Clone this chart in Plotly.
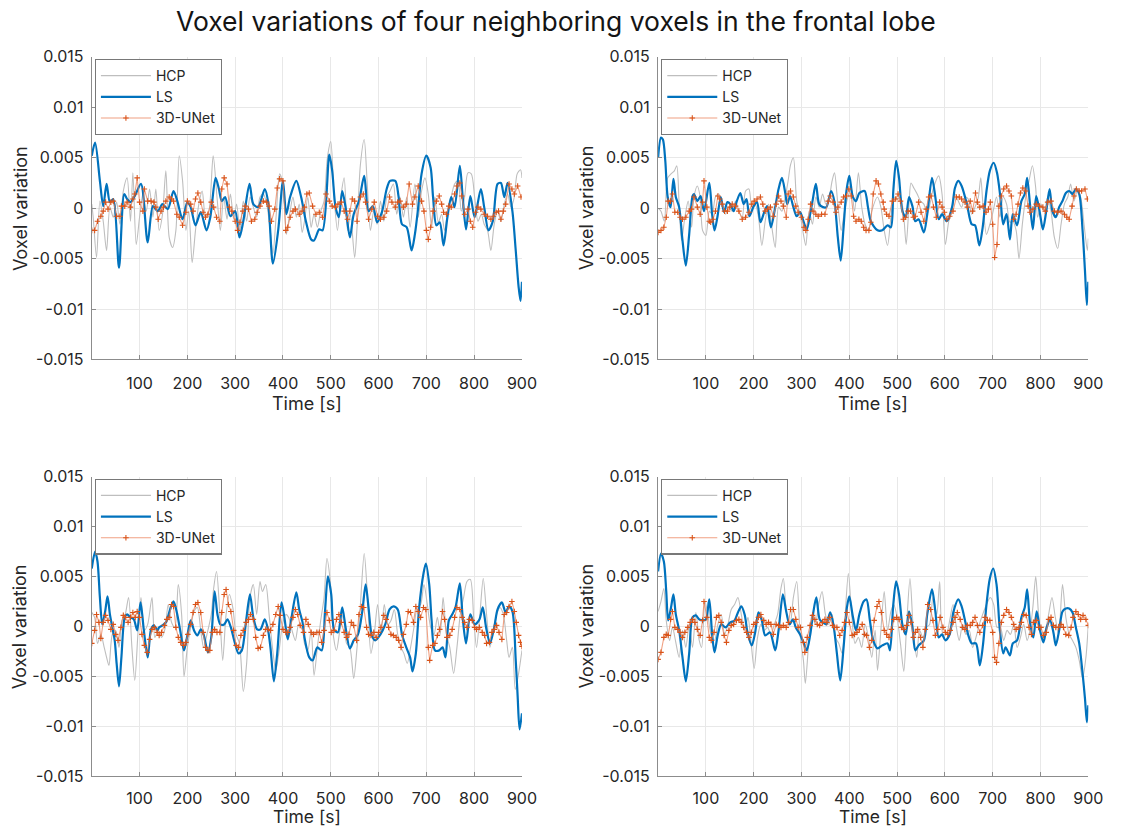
import plotly.graph_objects as go

# Voxel variation values are stored in thousandths: (time [s], variation x 1e-3)
SCALE = 1e-3

# ---------------- top-left voxel ----------------
P1_HCP = [(0,0.4),(3,-0.9),(10,-4.9),(17,0.7),(24,-1.3),(31,-4.2),(38,0.1),(45,-0.9),(52,0.6),(59,-1.6),
          (66,1.7),(74,3.0),(81,-1.3),(86,3.5),(93,-3.6),(100,-0.9),(107,1.4),(114,-0.3),(121,1.9),(128,-0.9),
          (134,1.9),(141,-2.2),(148,-0.6),(155,3.7),(162,-2.9),(169,-3.9),(176,-2.2),(183,5.2),(190,2.7),(197,-2.2),
          (203,-0.3),(210,-5.4),(217,-2.2),(224,0.4),(231,1.7),(238,-0.9),(245,-0.3),(254,5.2),(262,1.1),(269,-2.2),
          (276,1.1),(283,-1.1),(290,1.4),(297,-1.1),(303,0.4),(310,-2.2),(317,0.7),(324,-1.3),(331,1.1),(338,0.1),
          (345,-0.9),(352,1.1),(359,1.4),(366,0.4),(372,-1.6),(379,-4.5),(386,-0.6),(393,3.4),(400,2.4),(407,-2.6),
          (414,-0.6),(421,1.1),(428,-0.9),(434,0.4),(440,-2.4),(445,-1.3),(452,1.1),(459,-1.9),(465,-0.6),(472,-1.9),
          (479,-0.3),(486,0.7),(493,5.0),(500,6.6),(507,1.1),(514,-2.2),(521,1.1),(528,3.0),(535,-2.2),(541,-0.6),
          (550,-4.9),(555,-1.9),(562,4.3),(570,6.8),(576,2.7),(583,-2.2),(590,-0.3),(597,-1.6),(604,0.7),(611,-1.3),
          (617,1.1),(624,1.7),(631,2.4),(638,-0.6),(645,1.1),(652,-0.9),(659,1.1),(666,-1.9),(676,2.4),(683,-0.9),
          (690,1.7),(697,3.0),(704,1.4),(711,-1.9),(718,1.1),(725,-1.4),(732,-0.6),(738,-2.2),(745,-0.3),(752,1.1),
          (759,2.4),(766,2.7),(773,-0.3),(780,1.1),(787,3.5),(794,3.4),(801,1.1),(808,-1.3),(815,-0.6),(821,-1.6),
          (828,-2.2),(835,-4.2),(842,-1.6),(849,-0.3),(856,-1.3),(863,0.4),(870,1.4),(877,0.1),(884,1.1),(890,3.4),
          (897,3.8),(900,3.0)]
P1_LS = [(0,5.2),(7,6.5),(17,2.7),(24,0.2),(31,2.4),(38,0.6),(45,0.9),(57,-5.9),(68,1.4),(74,0.9),
         (81,0.6),(90,1.2),(103,2.4),(117,-3.4),(128,0.2),(138,-0.3),(148,0.4),(159,-0.1),(171,1.7),(179,0.7),
         (190,-1.1),(200,0.6),(207,0.1),(217,-1.7),(228,-0.4),(240,-2.2),(248,-0.9),(259,3.0),(266,1.9),(272,0.7),
         (279,1.1),(290,-0.8),(300,-0.3),(309,-2.9),(317,-1.3),(330,2.4),(338,0.4),(348,0.1),(362,1.9),(369,0.6),
         (379,-5.5),(390,-2.2),(400,2.7),(407,-0.6),(415,1.1),(428,2.7),(438,1.1),(448,-1.3),(459,-3.1),(465,-3.2),
         (476,-2.1),(483,-2.2),(497,5.3),(503,3.7),(510,0.1),(517,-0.9),(524,1.7),(531,0.1),(540,-2.9),(548,-0.6),
         (559,0.7),(570,3.2),(579,-0.3),(588,0.2),(597,-1.4),(607,-0.4),(617,1.9),(624,2.7),(635,2.7),(642,1.1),
         (649,-1.6),(659,-1.9),(669,-4.2),(676,-2.6),(683,0.1),(690,3.4),(700,5.2),(709,4.0),(714,1.1),(721,-1.7),
         (728,-1.4),(736,-3.7),(744,-0.9),(752,1.1),(759,0.1),(770,4.2),(776,1.1),(783,-2.1),(792,1.2),(801,-0.9),
         (814,1.9),(821,0.1),(830,-2.2),(839,-1.3),(849,2.4),(856,2.5),(863,1.1),(870,2.5),(880,-0.3),(887,-4.2),
         (893,-7.8),(897,-9.2),(900,-7.3)]
P1_UNET = [(0,-2.2),(6,-2.2),(12,-1.3),(19,-0.8),(24,-0.3),(29,0.6),(34,-0.1),(40,0.6),(45,0.7),(52,-0.8),
           (59,-0.8),(62,0.2),(69,0.2),(74,0.6),(81,0.1),(86,0.9),(90,1.4),(95,3.0),(100,0.6),(107,-0.3),
           (110,1.9),(117,0.7),(124,0.7),(130,0.6),(134,0.1),(139,-1.1),(145,-0.3),(150,0.1),(155,0.7),(162,1.1),
           (167,0.9),(171,0.7),(178,-0.6),(183,-0.9),(190,-1.7),(197,-0.4),(200,0.7),(207,0.4),(212,-0.3),(217,0.9),
           (222,1.5),(228,0.6),(233,-0.4),(238,-0.9),(243,-0.6),(250,0.6),(255,0.1),(261,-0.9),(268,-1.3),(272,1.9),
           (277,3.0),(283,2.4),(288,0.1),(293,-0.3),(300,-1.3),(305,-2.2),(310,-1.4),(316,-0.3),(321,0.2),(328,-0.1),
           (334,-1.3),(341,-1.1),(346,-0.4),(352,0.2),(359,0.7),(366,0.6),(371,0.2),(376,-1.3),(383,-0.1),(388,2.0),
           (393,2.9),(400,2.7),(406,-2.2),(410,-1.9),(415,-0.9),(421,-0.3),(426,-0.1),(434,-0.6),(440,-0.3),(445,0.1),
           (450,1.4),(455,1.5),(462,0.2),(469,-0.6),(476,-0.4),(483,-0.9),(490,1.4),(497,0.7),(503,0.2),(510,0.1),
           (515,0.4),(522,0.6),(528,-0.3),(535,-1.1),(540,-0.3),(545,0.9),(550,0.7),(555,-1.3),(562,1.1),(568,1.4),
           (573,0.6),(579,-1.1),(586,-0.1),(591,0.6),(598,-0.8),(604,-1.1),(611,-0.9),(617,-0.3),(623,1.1),(628,0.6),
           (635,0.1),(640,0.6),(645,0.7),(652,0.1),(658,0.4),(664,2.4),(671,0.4),(676,1.1),(683,2.2),(690,0.7),
           (695,-0.3),(700,-2.2),(704,-3.1),(709,-1.9),(714,-0.3),(721,0.7),(727,1.2),(732,0.4),(736,-0.4),(742,-0.6),
           (747,0.2),(752,0.1),(759,1.4),(764,2.2),(770,2.5),(774,1.2),(780,-0.6),(787,-0.1),(792,-1.3),(797,-1.9),
           (803,-0.4),(808,0.1),(814,-0.1),(821,-0.6),(828,-0.8),(835,-1.1),(840,-0.8),(846,-0.4),(851,-0.3),(856,-1.1),
           (861,-0.3),(866,0.4),(873,2.4),(879,1.9),(884,1.4),(891,2.2),(898,1.1)]

# ---------------- top-right voxel ----------------
P2_HCP = [(0,0.0),(6,-0.3),(13,-1.3),(20,3.0),(27,3.4),(34,3.7),(39,4.2),(44,0.4),(49,-3.2),(56,-0.9),
          (63,0.7),(70,-1.9),(75,1.1),(82,2.2),(88,1.1),(93,-2.2),(100,-2.7),(107,-0.3),(113,-0.6),(120,1.1),
          (127,1.4),(134,0.2),(141,-0.6),(148,0.1),(155,-0.3),(162,0.7),(169,-0.3),(176,-0.9),(183,1.7),(190,1.9),
          (196,0.1),(203,0.4),(210,-0.9),(217,-3.7),(224,-1.3),(231,0.4),(238,-1.9),(245,-3.9),(252,0.1),(259,-0.3),
          (266,1.1),(272,2.7),(277,4.3),(283,5.0),(290,0.7),(297,-0.6),(304,-2.6),(309,-3.7),(316,-0.3),(323,-1.6),
          (330,1.1),(337,0.1),(344,1.4),(351,0.4),(358,1.1),(364,2.7),(369,3.5),(376,0.4),(383,-2.2),(390,-0.3),
          (397,1.1),(404,2.0),(411,-0.3),(419,3.5),(426,0.1),(433,-1.6),(440,-2.2),(447,-0.3),(459,1.1),(466,0.1),
          (473,-2.2),(480,-3.7),(487,-0.9),(493,1.1),(500,0.9),(507,1.1),(514,-0.9),(519,-3.6),(525,0.4),(529,2.5),
          (535,2.0),(542,1.4),(549,0.7),(556,0.4),(563,-0.6),(570,0.7),(576,2.0),(587,3.2),(594,1.4),(601,-3.6),
          (608,-1.3),(615,-0.3),(621,1.4),(628,0.7),(635,0.1),(642,1.1),(649,0.9),(656,-0.6),(663,0.1),(670,1.1),
          (675,3.0),(680,0.1),(687,-2.6),(694,-1.6),(701,-0.3),(708,1.1),(715,-0.9),(722,1.1),(729,0.4),(736,-1.4),
          (742,-1.3),(749,-2.2),(755,-5.0),(762,-1.6),(769,1.1),(776,2.7),(783,4.2),(790,2.0),(794,-0.9),(801,0.4),
          (808,-0.3),(815,1.1),(822,-0.3),(829,-2.9),(836,-4.0),(843,-1.6),(850,0.4),(857,1.1),(863,2.4),(870,0.7),
          (877,1.7),(884,1.1),(891,-1.6),(898,-4.2),(900,-3.0)]
P2_LS = [(0,5.0),(6,7.0),(10,6.8),(15,4.7),(20,1.1),(26,0.1),(32,2.9),(37,1.1),(44,0.1),(51,-3.2),
         (58,-5.7),(65,-2.6),(72,1.2),(75,1.4),(82,0.7),(89,1.2),(96,-0.3),(107,2.5),(113,-0.6),(118,-2.2),
         (124,-0.9),(131,1.1),(138,-0.4),(145,0.6),(151,0.4),(158,-0.3),(164,0.6),(172,1.5),(179,0.4),(185,0.9),
         (191,-0.8),(200,0.2),(207,0.6),(214,-1.4),(222,-0.4),(228,0.2),(236,-1.9),(245,0.1),(252,1.9),(259,3.0),
         (266,1.5),(270,0.4),(276,1.2),(283,0.1),(290,-0.8),(297,-0.4),(304,-1.3),(311,-2.1),(318,-0.6),(323,0.7),
         (330,2.4),(337,0.4),(345,0.1),(352,0.1),(362,1.7),(369,0.6),(376,-2.9),(382,-5.2),(388,-1.9),(394,1.7),
         (400,3.2),(407,1.2),(414,0.7),(421,1.5),(432,1.7),(439,0.1),(445,-1.3),(459,-2.2),(469,-2.2),(480,-1.7),
         (487,-1.9),(492,1.7),(498,4.7),(504,3.0),(511,-0.3),(518,-0.9),(525,1.1),(532,0.2),(538,-1.3),(545,-1.1),
         (556,-2.4),(563,-0.6),(573,3.0),(580,1.1),(587,-1.1),(594,-0.6),(604,-1.3),(615,0.1),(621,2.0),(628,2.7),
         (635,2.2),(646,0.4),(656,-1.6),(663,-1.7),(672,-3.7),(679,-1.9),(687,1.7),(694,3.7),(702,4.5),(709,3.5),
         (716,1.1),(722,-1.6),(729,-0.6),(736,-3.1),(742,-0.6),(751,-1.7),(760,0.7),(767,1.4),(772,3.0),(778,0.4),
         (784,-2.1),(791,1.2),(798,-0.3),(805,-2.1),(812,-0.3),(819,1.9),(825,-0.3),(832,-0.9),(839,0.1),(846,0.7),
         (853,1.5),(860,1.7),(867,1.4),(874,1.9),(881,1.4),(888,-2.2),(893,-6.2),(897,-9.6),(900,-7.3)]
P2_UNET = [(0,-2.4),(6,-2.2),(12,-1.9),(17,-0.9),(21,0.7),(26,0.7),(30,1.4),(35,-0.4),(41,-0.4),(46,-0.9),
           (51,-1.1),(58,-0.9),(65,-0.3),(70,-0.1),(75,1.1),(82,0.1),(88,-0.6),(93,0.6),(96,2.7),(102,0.1),
           (107,-1.3),(110,-1.4),(115,-1.1),(120,-0.3),(125,1.2),(129,0.9),(134,0.4),(139,-0.3),(145,-0.3),(150,0.1),
           (155,0.4),(162,0.2),(169,-0.3),(176,-1.1),(183,-0.9),(190,-0.4),(196,0.4),(201,0.7),(207,0.9),(214,1.1),
           (219,0.4),(224,-0.3),(229,-0.1),(235,0.1),(241,-0.8),(247,0.4),(252,1.2),(257,0.7),(262,0.2),(268,-0.9),
           (272,1.4),(277,1.7),(283,1.1),(288,0.2),(293,-0.4),(300,-0.9),(305,-1.9),(309,-2.2),(314,-1.1),(319,0.4),
           (324,-0.3),(330,-0.6),(335,-0.8),(342,-0.6),(349,-0.6),(356,0.7),(360,1.2),(366,0.6),(372,-0.4),(376,0.1),
           (383,0.6),(388,1.1),(394,1.2),(399,1.9),(404,1.2),(409,-0.8),(414,-1.3),(420,-1.1),(425,-1.3),(430,-1.9),
           (435,-2.2),(441,-2.2),(445,-1.4),(450,1.4),(456,2.7),(461,2.4),(466,1.4),(471,0.6),(473,-0.1),(478,-0.6),
           (483,-0.8),(490,0.7),(497,0.9),(502,1.4),(507,0.7),(513,-1.1),(518,-0.9),(523,-0.3),(528,-0.3),(534,-0.9),
           (538,-0.8),(545,0.6),(550,-0.4),(556,-1.3),(561,-0.1),(566,1.1),(571,1.2),(576,0.1),(582,-0.9),(589,0.6),
           (594,0.1),(599,-0.4),(604,-1.1),(610,-0.8),(617,-0.3),(624,1.1),(630,1.1),(635,0.9),(642,0.6),(647,0.1),
           (653,0.7),(658,-0.3),(664,1.5),(668,0.6),(673,0.1),(680,0.2),(686,-0.4),(691,-0.1),(695,0.6),(700,-1.6),
           (704,-4.9),(709,-3.6),(713,0.2),(718,1.2),(723,1.9),(729,2.2),(734,1.7),(739,1.2),(744,-1.1),(749,-0.6),
           (753,0.4),(758,1.5),(763,2.0),(769,1.7),(774,0.2),(778,-0.4),(784,-0.1),(791,0.4),(798,0.2),(805,0.1),
           (810,-0.3),(815,0.6),(822,0.7),(829,-0.3),(836,-0.4),(843,-0.3),(850,-0.6),(855,-0.9),(860,-1.1),(866,0.2),
           (870,1.2),(875,1.9),(881,1.7),(886,1.7),(893,1.9),(898,0.9)]

# ---------------- bottom-left voxel ----------------
P3_HCP = [(0,1.4),(6,0.9),(12,-1.7),(19,-0.8),(26,-2.1),(31,-3.1),(36,-3.9),(43,-0.8),(50,-0.4),(57,-2.1),
          (63,0.6),(70,1.2),(77,2.9),(84,-2.1),(90,-5.4),(97,-0.4),(103,2.9),(110,-0.4),(117,0.2),(126,2.9),
          (132,-1.1),(139,-0.4),(146,-1.1),(153,-0.3),(160,2.2),(167,0.4),(174,-0.1),(181,4.2),(188,1.2),(193,-5.0),
          (200,-2.1),(207,-0.1),(214,1.5),(221,1.9),(228,-0.4),(234,-2.1),(241,-0.8),(250,1.2),(255,3.8),(261,5.5),
          (268,1.2),(274,-3.4),(281,1.2),(288,3.2),(295,1.9),(302,-0.8),(309,-1.7),(317,-6.5),(324,-3.7),(331,2.9),
          (338,4.2),(345,1.2),(352,4.5),(357,3.5),(364,4.2),(371,1.2),(378,-2.1),(385,-4.4),(392,-2.4),(399,0.2),
          (406,1.2),(412,0.9),(419,-0.4),(426,-1.4),(433,0.2),(440,-0.1),(445,-1.7),(452,-2.4),(459,-0.4),(465,-4.9),
          (472,-2.1),(479,0.6),(486,2.9),(492,6.8),(499,4.5),(506,-1.1),(512,-2.4),(519,-0.4),(526,1.2),(533,-1.7),
          (540,-2.1),(548,-5.2),(555,-2.1),(562,2.2),(570,7.3),(577,2.9),(584,-2.7),(591,-0.8),(598,2.2),(605,-0.8),
          (612,2.2),(619,0.2),(626,0.6),(633,1.7),(640,-0.8),(647,-2.1),(653,-2.7),(660,-3.7),(667,-2.1),(674,-0.1),
          (681,1.9),(688,2.2),(695,4.2),(702,2.2),(709,-0.1),(716,-0.8),(723,0.9),(729,-0.8),(735,2.9),(742,-0.8),
          (749,-2.1),(757,-4.7),(764,-2.1),(771,1.2),(778,2.9),(785,4.5),(792,4.7),(799,0.9),(805,-2.1),(812,1.2),
          (819,4.8),(826,1.2),(833,-2.1),(840,-0.4),(847,1.2),(854,1.9),(861,1.2),(868,-1.4),(873,-3.1),(880,-2.1),
          (886,-6.3),(893,-4.7),(900,-2.4)]
P3_LS = [(0,5.8),(7,7.5),(12,6.5),(17,2.9),(22,0.2),(28,1.5),(33,3.0),(38,1.2),(43,-0.1),(48,-1.4),
         (52,-3.7),(57,-6.0),(62,-3.1),(69,0.9),(74,1.2),(81,0.9),(88,0.7),(95,-0.4),(102,2.4),(109,-0.4),
         (117,-3.1),(124,-0.3),(130,0.1),(137,-0.4),(141,-0.1),(148,0.1),(155,0.4),(164,1.7),(171,2.5),(178,1.4),
         (185,-0.4),(193,-2.4),(200,-0.9),(207,0.6),(214,-0.4),(221,-0.9),(228,-0.3),(234,-0.8),(243,-2.6),(250,-1.1),
         (257,3.5),(263,1.2),(269,0.2),(277,0.2),(284,0.7),(291,-0.1),(298,-1.4),(307,-2.7),(314,-2.4),(323,0.6),
         (331,3.2),(338,0.9),(346,-0.3),(353,-0.3),(362,0.7),(369,-0.4),(374,-2.2),(381,-5.5),(388,-2.7),(397,2.4),
         (403,0.9),(410,-1.3),(417,0.6),(428,3.4),(434,1.7),(441,0.4),(445,-1.1),(455,-3.1),(462,-3.4),(472,-2.1),
         (481,-2.4),(488,1.5),(494,5.0),(501,3.2),(507,-0.3),(515,-0.6),(524,1.9),(531,-0.1),(540,-2.2),(548,-1.4),
         (557,-0.8),(566,1.5),(573,4.2),(579,1.9),(586,-0.9),(593,-1.4),(604,-0.8),(614,0.2),(623,1.7),(631,2.0),
         (640,1.7),(649,-0.8),(658,-2.1),(666,-3.1),(671,-4.5),(678,-2.7),(685,1.9),(694,5.3),(699,6.3),(706,4.2),
         (711,0.6),(718,-2.4),(727,-2.4),(734,-2.1),(740,-3.1),(747,0.6),(754,1.2),(761,1.9),(770,4.3),(776,0.9),
         (783,-1.7),(792,1.2),(801,0.2),(811,0.7),(818,1.9),(825,-0.1),(833,-1.7),(842,-0.1),(849,1.7),(858,2.4),
         (866,1.4),(873,2.0),(880,1.5),(887,-3.4),(891,-7.0),(895,-10.3),(900,-8.7)]
P3_UNET = [(0,-1.7),(6,-0.4),(10,1.2),(15,0.4),(19,-1.2),(24,0.4),(29,1.1),(34,0.6),(40,-0.3),(45,0.2),
           (50,-0.8),(55,-1.4),(61,-0.1),(66,1.1),(70,0.9),(76,0.4),(81,0.9),(86,1.4),(91,0.9),(95,1.5),
           (100,0.9),(105,-0.8),(110,-1.9),(116,-2.6),(121,-1.3),(126,-0.3),(131,-0.1),(137,-0.6),(141,-0.9),(146,-0.6),
           (152,0.1),(157,0.7),(162,0.9),(167,2.2),(171,2.0),(176,-0.1),(181,-1.1),(186,-1.6),(192,-1.9),(197,-1.6),
           (201,-0.8),(207,0.2),(212,1.4),(217,2.2),(222,2.4),(228,1.4),(233,-0.6),(238,-2.1),(243,-2.4),(247,-2.4),
           (252,-0.6),(257,-0.3),(262,-0.6),(268,-0.6),(272,1.4),(277,3.2),(281,3.7),(286,2.2),(291,1.5),(297,-0.4),
           (302,-1.9),(307,-2.1),(312,-0.9),(317,-0.4),(323,0.4),(328,0.7),(332,1.2),(338,0.7),(343,-1.1),(348,-2.2),
           (353,-2.1),(359,-0.9),(364,-0.3),(369,-0.3),(374,-0.4),(379,0.2),(385,1.2),(390,2.0),(394,1.1),(400,-0.3),
           (406,-0.6),(410,-0.6),(415,-0.1),(421,0.9),(426,1.7),(431,1.2),(436,0.1),(443,-0.6),(448,0.7),(453,0.2),
           (459,-0.6),(464,-0.8),(471,-0.6),(476,-0.6),(481,-1.6),(486,-0.4),(492,1.4),(497,0.6),(501,-0.6),(507,-0.4),
           (512,0.7),(517,1.2),(522,0.4),(528,-0.6),(533,-1.1),(538,-0.8),(543,0.4),(548,0.1),(554,-1.4),(559,1.2),
           (564,2.0),(569,1.9),(575,-0.1),(579,-0.8),(584,-0.9),(590,-0.6),(595,-1.1),(600,-0.6),(605,-0.1),(611,1.1),
           (616,0.7),(621,-0.1),(626,-0.8),(631,-0.9),(637,-1.1),(642,-1.4),(647,-2.1),(652,-0.8),(658,0.2),(662,1.5),
           (667,1.4),(673,0.4),(678,2.0),(683,1.5),(688,0.9),(694,1.9),(699,1.7),(704,-2.1),(707,-3.4),(713,-1.9),
           (718,-1.7),(723,-0.9),(728,-0.3),(734,1.5),(738,0.7),(743,-1.1),(749,-0.9),(754,-0.3),(759,0.9),(764,1.9),
           (770,1.7),(775,0.9),(780,0.4),(785,-0.1),(790,0.7),(796,0.6),(801,-0.1),(805,-0.3),(811,-0.1),(817,-0.6),
           (822,-0.9),(826,-1.7),(832,-1.6),(837,-0.6),(842,-0.3),(847,0.1),(852,-0.6),(858,-1.3),(863,1.2),(868,1.4),
           (873,2.0),(879,2.5),(884,1.5),(888,0.4),(893,-0.9),(897,-1.6),(900,-2.0)]

# ---------------- bottom-right voxel ----------------
P4_HCP = [(0,1.5),(6,2.5),(12,3.8),(17,0.6),(24,-1.4),(30,-0.1),(37,-1.6),(44,-3.1),(51,-0.4),(58,-2.1),
          (65,0.2),(72,-2.1),(79,1.4),(86,-1.4),(91,-2.1),(98,2.5),(104,1.2),(111,-0.9),(118,-1.4),(125,0.2),
          (132,1.2),(139,-0.8),(146,0.2),(153,1.7),(160,2.2),(167,2.9),(174,1.2),(181,-0.4),(188,0.9),(194,-1.4),
          (201,-4.2),(208,-1.1),(215,0.2),(222,-0.4),(229,-0.1),(236,-0.8),(243,0.2),(250,1.2),(257,3.8),(262,4.8),
          (269,1.2),(276,0.2),(283,2.9),(290,4.5),(297,-0.8),(304,-3.4),(308,-5.7),(315,-1.7),(322,1.2),(329,0.2),
          (336,2.2),(343,3.5),(350,1.2),(357,0.2),(364,1.2),(371,-1.1),(378,-1.7),(385,-2.7),(391,0.9),(398,5.3),
          (405,1.2),(412,-1.7),(419,-1.1),(426,-2.1),(433,0.2),(440,-1.1),(447,-3.1),(454,-0.4),(459,-4.4),(466,-0.4),
          (473,3.5),(480,-0.4),(487,1.5),(493,2.2),(500,0.9),(507,-1.7),(514,-4.5),(520,0.2),(527,4.8),(534,-0.4),
          (541,-3.1),(547,-0.4),(554,-1.1),(561,-0.1),(568,0.2),(575,2.9),(583,1.2),(589,4.5),(596,-0.8),(603,-0.8),
          (610,0.6),(617,2.2),(624,-0.1),(630,-1.4),(637,0.2),(644,-0.8),(651,-0.4),(658,-2.1),(665,-1.1),(672,0.2),
          (679,1.2),(687,2.2),(695,2.9),(702,2.2),(709,-0.1),(716,-0.1),(723,-1.4),(730,-0.4),(737,-0.8),(744,0.2),
          (751,-2.1),(758,-1.1),(765,0.2),(772,-1.4),(778,-0.4),(784,1.9),(790,5.0),(796,1.2),(803,-1.1),(810,-0.4),
          (817,1.2),(824,2.9),(831,0.9),(838,-0.8),(846,4.2),(853,0.9),(860,-0.8),(867,-1.4),(874,-2.1),(881,-3.4),
          (888,-5.2),(895,-3.1),(900,0.2)]
P4_LS = [(0,5.5),(6,7.3),(12,6.5),(17,3.5),(21,0.6),(27,1.9),(32,3.2),(37,1.2),(44,-0.4),(51,-3.1),
         (58,-5.5),(65,-2.7),(72,0.9),(79,1.1),(86,0.7),(93,0.6),(100,0.7),(107,2.7),(113,-0.8),(118,-2.6),
         (125,-0.8),(132,0.2),(141,-0.1),(151,0.4),(160,0.6),(167,1.4),(174,2.0),(181,1.2),(187,-0.6),(196,-1.9),
         (203,-0.6),(210,1.4),(217,0.6),(224,-0.9),(234,-0.6),(245,-2.4),(252,-0.4),(261,3.2),(268,1.5),(275,0.2),
         (282,0.7),(288,-0.1),(297,-0.8),(305,-1.7),(311,-2.4),(318,-0.9),(324,1.2),(331,2.9),(338,0.7),(345,0.4),
         (352,0.2),(360,1.4),(367,0.1),(374,-2.7),(381,-5.4),(388,-2.1),(395,1.9),(400,3.0),(407,1.1),(414,-0.4),
         (421,1.2),(430,2.5),(436,2.7),(443,0.6),(450,-1.4),(459,-2.2),(469,-1.9),(480,-1.7),(485,-2.4),(492,2.2),
         (498,4.5),(504,3.2),(511,0.2),(518,-0.8),(525,1.5),(532,-0.1),(538,-2.4),(545,-1.9),(556,-1.4),(563,1.2),
         (573,3.7),(580,1.5),(587,-1.1),(594,-0.8),(601,-1.4),(610,-0.8),(618,1.5),(628,2.7),(635,2.0),(642,0.6),
         (649,-0.9),(656,-1.7),(665,-1.7),(673,-3.9),(680,-1.7),(687,2.2),(694,4.8),(701,5.8),(708,4.2),(715,-0.4),
         (722,-2.7),(727,-2.1),(736,-2.9),(742,-1.7),(751,-1.4),(760,0.9),(767,1.9),(772,3.7),(778,0.4),(785,-1.1),
         (792,1.5),(799,-0.4),(806,-1.6),(813,-0.1),(820,0.6),(827,-0.6),(832,-1.9),(839,-0.4),(846,1.5),(853,1.8),
         (860,1.8),(867,1.4),(874,-0.1),(881,-1.7),(888,-4.7),(893,-7.2),(897,-9.6),(900,-7.9)]
P4_UNET = [(0,-3.3),(6,-2.6),(12,-1.1),(17,-0.8),(21,-0.9),(26,0.7),(30,1.5),(35,-0.1),(41,-0.3),(46,-0.6),
           (51,-1.1),(56,-0.6),(62,-0.1),(67,0.4),(72,0.7),(77,0.4),(82,-0.3),(88,-0.9),(93,0.6),(96,2.5),
           (102,0.9),(107,-1.1),(111,-1.4),(117,-0.6),(122,0.9),(127,1.1),(132,0.4),(138,-0.9),(143,-1.6),(148,-0.4),
           (153,0.1),(158,0.2),(164,0.6),(169,0.7),(174,0.4),(179,-0.1),(185,-0.6),(190,-1.1),(195,-0.6),(200,0.2),
           (205,0.4),(210,0.9),(215,1.2),(221,0.6),(226,0.2),(231,0.4),(236,0.2),(241,-0.8),(247,0.2),(252,0.1),
           (257,-0.1),(262,0.1),(268,-0.1),(273,0.4),(277,1.7),(283,1.7),(288,0.7),(293,-0.1),(298,-0.1),(304,-1.6),
           (307,-2.6),(312,-1.1),(318,0.1),(323,1.1),(328,0.7),(333,0.2),(338,0.1),(344,0.4),(349,0.7),(353,0.4),
           (359,0.9),(365,0.1),(369,-0.1),(374,-0.1),(380,-0.9),(385,-0.4),(390,0.4),(395,1.4),(400,0.4),(406,-0.9),
           (411,-0.8),(416,-0.6),(421,-0.3),(427,0.2),(432,-0.8),(436,-0.9),(442,-2.1),(447,-1.4),(452,0.6),(458,2.0),
           (462,2.5),(467,1.4),(473,-0.4),(478,-0.8),(483,-1.1),(488,-0.3),(493,0.7),(499,0.9),(504,0.7),(509,-0.1),
           (514,-0.3),(520,0.1),(525,1.1),(529,0.4),(534,-1.1),(538,-0.6),(543,-0.3),(549,-1.1),(554,-2.1),(559,-0.3),
           (564,2.2),(570,1.7),(575,0.6),(580,-0.9),(585,-0.3),(590,0.9),(596,-0.1),(601,-0.6),(606,-0.8),(611,-0.4),
           (617,0.4),(621,0.9),(626,1.4),(632,0.7),(637,-0.1),(642,-0.3),(647,0.1),(653,0.1),(658,0.4),(663,0.9),
           (668,0.1),(673,-0.6),(679,0.1),(684,0.9),(689,0.6),(694,0.6),(700,-0.6),(704,-3.1),(708,-3.6),(713,-1.7),
           (718,0.4),(723,1.1),(729,1.7),(734,1.4),(739,0.9),(744,0.2),(749,-0.3),(755,-0.1),(760,0.4),(765,1.2),
           (770,1.1),(776,-0.1),(781,-0.8),(785,0.4),(791,0.6),(796,-0.1),(801,-0.1),(806,-0.9),(812,-0.6),(817,0.7),
           (822,0.9),(827,0.1),(832,-0.1),(838,-0.1),(843,0.2),(848,-0.1),(853,-0.8),(859,-0.9),(864,-0.1),(868,0.9),
           (874,1.5),(879,1.2),(884,0.7),(889,1.1),(895,0.7),(900,0.1)]

PANELS = [(P1_HCP, P1_LS, P1_UNET), (P2_HCP, P2_LS, P2_UNET),
          (P3_HCP, P3_LS, P3_UNET), (P4_HCP, P4_LS, P4_UNET)]

SERIES_NAMES = ["HCP", "LS", "3D-UNet"]
TITLE = "Voxel variations of four neighboring voxels in the frontal lobe"
X_LABEL = "Time [s]"
Y_LABEL = "Voxel variation"
X_TICKS = [100, 200, 300, 400, 500, 600, 700, 800, 900]
Y_TICKS = [0.015, 0.01, 0.005, 0, -0.005, -0.01, -0.015]
Y_TICK_TEXT = ["0.015", "0.01", "0.005", "0", "-0.005", "-0.01", "-0.015"]

# ---------------- layout geometry (figure pixels: left, right, top, bottom) ----------------
W, H = 1126, 837
BOXES = [(93, 529, 48, 358), (667, 1103, 48, 358),
         (93, 529, 478, 785), (667, 1103, 478, 785)]
TITLE_Y = 11
X_LABEL_Y = [403, 403, 826, 826]
X_LABEL_SIZE = [18, 18, 17.5, 17.5]
X_TICK_STANDOFF = [9, 9, 7, 7]

FONT = "Inter, Roboto, 'Noto Sans', sans-serif"
TEXT = "rgb(38,38,38)"
AXIS = "rgb(140,140,140)"
GRID = "rgb(232,232,232)"

HCP_COLOR = "rgb(190,190,190)"
LS_COLOR = "rgb(0,114,189)"
UNET_COLOR = "rgb(217,83,25)"


def px(x):
    return x / W


def py(y):
    return 1 - y / H


fig = go.Figure()
annotations = []

for i, (hcp, ls, unet) in enumerate(PANELS):
    n = "" if i == 0 else str(i + 1)
    legend_id = "legend" + n
    xa, ya = "x" + n, "y" + n

    for data, name in zip((hcp, ls, unet), SERIES_NAMES):
        t = [p[0] for p in data]
        v = [p[1] * SCALE for p in data]
        if name == "HCP":
            tr = go.Scatter(x=t, y=v, mode="lines", name=name,
                            line=dict(color=HCP_COLOR, width=1.1, shape="spline", smoothing=0.8))
        elif name == "LS":
            tr = go.Scatter(x=t, y=v, mode="lines", name=name,
                            line=dict(color=LS_COLOR, width=2.2, shape="spline", smoothing=0.8))
        else:
            tr = go.Scatter(x=t, y=v, mode="lines+markers", name=name,
                            line=dict(color="rgba(235,130,90,0.75)", width=1.1),
                            marker=dict(symbol="cross-thin-open", size=4,
                                        line=dict(color=UNET_COLOR, width=1.1), color=UNET_COLOR))
        tr.update(xaxis=xa, yaxis=ya, legend=legend_id, hoverinfo="skip")
        fig.add_trace(tr)

    x0, x1, y0, y1 = BOXES[i]
    axis_common = dict(showline=True, linecolor=AXIS, linewidth=1.2, showgrid=True,
                       gridcolor=GRID, gridwidth=1, zeroline=False, ticks="inside",
                       ticklen=4, tickcolor=AXIS, tickfont=dict(family=FONT, size=16, color=TEXT),
                       mirror=False)
    fig.update_layout(**{
        "xaxis" + n: dict(domain=[px(x0), px(x1)], range=[0, 900], tickvals=X_TICKS,
                          anchor=ya, ticklabelstandoff=X_TICK_STANDOFF[i], **axis_common),
        "yaxis" + n: dict(domain=[py(y1), py(y0)], range=[-0.015, 0.015], tickvals=Y_TICKS,
                          ticktext=Y_TICK_TEXT, anchor=xa, ticklabelstandoff=4, **axis_common),
        legend_id: dict(x=px(x0 + 3), y=py(y0 + 2), xanchor="left", yanchor="top",
                        bgcolor="white", bordercolor="rgb(120,120,120)", borderwidth=1.2,
                        font=dict(family=FONT, size=14, color=TEXT), itemwidth=50,
                        tracegroupgap=0, traceorder="normal"),
    })

    annotations.append(dict(text=Y_LABEL, x=px(x0 - 73), y=py((y0 + y1) / 2), xref="paper",
                            yref="paper", textangle=-90, showarrow=False, xanchor="center",
                            yanchor="middle", font=dict(family=FONT, size=18, color=TEXT)))
    annotations.append(dict(text=X_LABEL, x=px((x0 + x1) / 2), y=py(X_LABEL_Y[i]), xref="paper",
                            yref="paper", showarrow=False, xanchor="center", yanchor="middle",
                            font=dict(family=FONT, size=X_LABEL_SIZE[i], color=TEXT)))

annotations.append(dict(text=TITLE, x=0.5, y=py(TITLE_Y), xref="paper", yref="paper", showarrow=False,
                        xanchor="center", yanchor="middle",
                        font=dict(family=FONT, size=26.5, color="rgb(20,20,20)")))

fig.update_layout(width=W, height=H, margin=dict(l=0, r=0, t=0, b=0),
                  paper_bgcolor="white", plot_bgcolor="white", annotations=annotations,
                  showlegend=True)

fig.write_html("out.html")
